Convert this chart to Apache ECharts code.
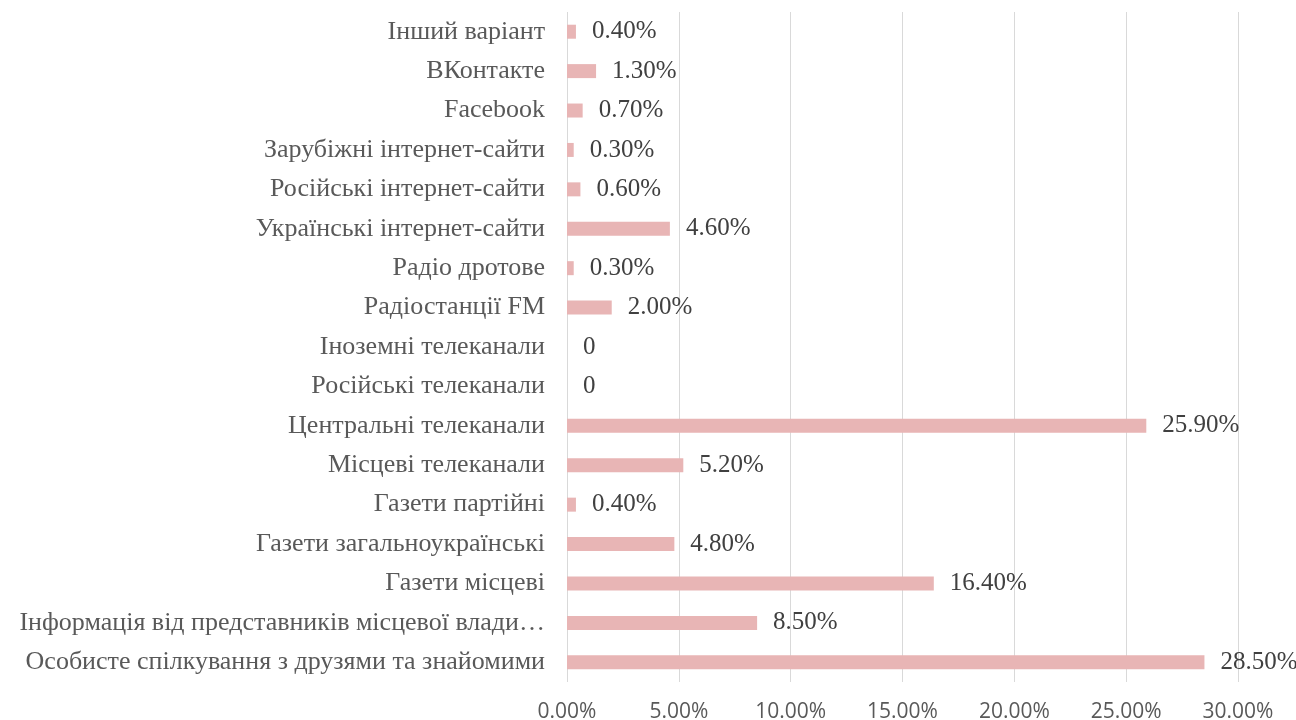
<!DOCTYPE html>
<html>
<head>
<meta charset="utf-8">
<script src="https://cdn.jsdelivr.net/npm/echarts@6/dist/echarts.min.js"></script>
<style>
  html, body { margin: 0; padding: 0; background: #fff; }
  #chart { width: 1296px; height: 720px; }
</style>
</head>
<body>
<div id="chart"></div>
<script>
  // categories from bottom to top
  var categories = [
    'Особисте спілкування з друзями та знайомими',
    'Інформація від представників місцевої влади…',
    'Газети місцеві',
    'Газети загальноукраїнські',
    'Газети партійні',
    'Місцеві телеканали',
    'Центральні телеканали',
    'Російські телеканали',
    'Іноземні телеканали',
    'Радіостанції FM',
    'Радіо дротове',
    'Українські інтернет-сайти',
    'Російські інтернет-сайти',
    'Зарубіжні інтернет-сайти',
    'Facebook',
    'ВКонтакте',
    'Інший варіант'
  ];
  var values = [28.5, 8.5, 16.4, 4.8, 0.4, 5.2, 25.9, 0, 0, 2.0, 0.3, 4.6, 0.6, 0.3, 0.7, 1.3, 0.4];
  var axisMin = 0;
  var axisMax = 30;
  var axisStep = 5;

  var myChart = echarts.init(document.getElementById('chart'));
  var option = {
    animation: false,
    grid: {
      left: 567,
      right: 58,
      top: 12,
      bottom: 38,
      containLabel: false,
      outerBoundsMode: 'none'
    },
    xAxis: {
      type: 'value',
      min: axisMin,
      max: axisMax,
      interval: axisStep,
      axisLine: { show: false },
      axisTick: { show: false },
      splitLine: { lineStyle: { color: '#d9d9d9', width: 1 } },
      axisLabel: {
        margin: 20,
        color: '#595959',
        fontFamily: 'Open Sans',
        fontSize: 21,
        formatter: function (v) { return v.toFixed(2) + '%'; }
      }
    },
    yAxis: {
      type: 'category',
      data: categories,
      axisLine: { show: false },
      axisTick: { show: false },
      axisLabel: {
        margin: 22,
        color: '#595959',
        fontFamily: 'Liberation Serif',
        fontSize: 26,
        lineHeight: 30,
        padding: [5, 0, 0, 0]
      }
    },
    series: [
      {
        type: 'bar',
        data: values,
        barWidth: 14,
        itemStyle: { color: '#e8b5b5' },
        label: {
          show: true,
          position: 'right',
          distance: 16,
          color: '#404040',
          fontFamily: 'Liberation Serif',
          fontSize: 25,
          padding: [5, 0, 0, 0],
          formatter: function (p) {
            return p.value === 0 ? '0' : p.value.toFixed(2) + '%';
          }
        }
      }
    ]
  };
  myChart.setOption(option);
</script>
</body>
</html>
